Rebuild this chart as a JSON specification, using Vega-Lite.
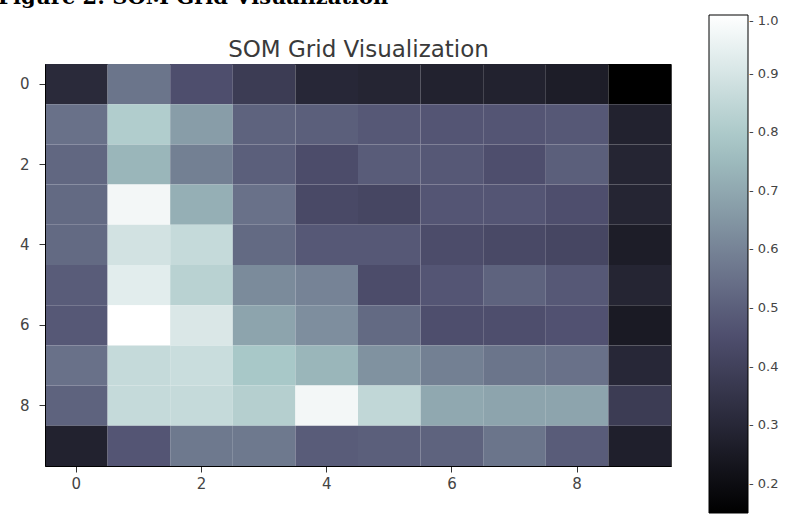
{
  "$schema": "https://vega.github.io/schema/vega-lite/v6.json",
  "autosize": "none",
  "width": 626,
  "height": 402,
  "padding": {"left": 45, "top": 64, "right": 128, "bottom": 51},
  "background": "white",
  "title": {"text": "Figure 2: SOM Grid Visualization", "font": "DejaVu Serif", "fontSize": 21, "fontWeight": "bold", "color": "#000", "anchor": "start", "frame": "group", "dx": -47, "offset": 0, "baseline": "alphabetic", "dy": 10},
  "config": {"view": {"stroke": "#444", "strokeWidth": 1}},
  "data": {"values": [
    {"r":0,"c":0,"v":0.31},{"r":0,"c":1,"v":0.56},{"r":0,"c":2,"v":0.45},{"r":0,"c":3,"v":0.38},{"r":0,"c":4,"v":0.30},{"r":0,"c":5,"v":0.29},{"r":0,"c":6,"v":0.28},{"r":0,"c":7,"v":0.28},{"r":0,"c":8,"v":0.26},{"r":0,"c":9,"v":0.15},
    {"r":1,"c":0,"v":0.55},{"r":1,"c":1,"v":0.81},{"r":1,"c":2,"v":0.67},{"r":1,"c":3,"v":0.51},{"r":1,"c":4,"v":0.50},{"r":1,"c":5,"v":0.48},{"r":1,"c":6,"v":0.47},{"r":1,"c":7,"v":0.47},{"r":1,"c":8,"v":0.48},{"r":1,"c":9,"v":0.28},
    {"r":2,"c":0,"v":0.52},{"r":2,"c":1,"v":0.74},{"r":2,"c":2,"v":0.59},{"r":2,"c":3,"v":0.50},{"r":2,"c":4,"v":0.44},{"r":2,"c":5,"v":0.49},{"r":2,"c":6,"v":0.48},{"r":2,"c":7,"v":0.45},{"r":2,"c":8,"v":0.50},{"r":2,"c":9,"v":0.29},
    {"r":3,"c":0,"v":0.53},{"r":3,"c":1,"v":0.97},{"r":3,"c":2,"v":0.72},{"r":3,"c":3,"v":0.55},{"r":3,"c":4,"v":0.43},{"r":3,"c":5,"v":0.42},{"r":3,"c":6,"v":0.47},{"r":3,"c":7,"v":0.47},{"r":3,"c":8,"v":0.45},{"r":3,"c":9,"v":0.29},
    {"r":4,"c":0,"v":0.53},{"r":4,"c":1,"v":0.89},{"r":4,"c":2,"v":0.86},{"r":4,"c":3,"v":0.53},{"r":4,"c":4,"v":0.48},{"r":4,"c":5,"v":0.48},{"r":4,"c":6,"v":0.44},{"r":4,"c":7,"v":0.43},{"r":4,"c":8,"v":0.42},{"r":4,"c":9,"v":0.26},
    {"r":5,"c":0,"v":0.49},{"r":5,"c":1,"v":0.93},{"r":5,"c":2,"v":0.83},{"r":5,"c":3,"v":0.62},{"r":5,"c":4,"v":0.60},{"r":5,"c":5,"v":0.44},{"r":5,"c":6,"v":0.47},{"r":5,"c":7,"v":0.51},{"r":5,"c":8,"v":0.48},{"r":5,"c":9,"v":0.29},
    {"r":6,"c":0,"v":0.48},{"r":6,"c":1,"v":1.0},{"r":6,"c":2,"v":0.91},{"r":6,"c":3,"v":0.69},{"r":6,"c":4,"v":0.63},{"r":6,"c":5,"v":0.53},{"r":6,"c":6,"v":0.45},{"r":6,"c":7,"v":0.45},{"r":6,"c":8,"v":0.46},{"r":6,"c":9,"v":0.25},
    {"r":7,"c":0,"v":0.55},{"r":7,"c":1,"v":0.86},{"r":7,"c":2,"v":0.87},{"r":7,"c":3,"v":0.79},{"r":7,"c":4,"v":0.74},{"r":7,"c":5,"v":0.64},{"r":7,"c":6,"v":0.59},{"r":7,"c":7,"v":0.56},{"r":7,"c":8,"v":0.55},{"r":7,"c":9,"v":0.30},
    {"r":8,"c":0,"v":0.51},{"r":8,"c":1,"v":0.86},{"r":8,"c":2,"v":0.86},{"r":8,"c":3,"v":0.82},{"r":8,"c":4,"v":0.97},{"r":8,"c":5,"v":0.85},{"r":8,"c":6,"v":0.70},{"r":8,"c":7,"v":0.69},{"r":8,"c":8,"v":0.69},{"r":8,"c":9,"v":0.38},
    {"r":9,"c":0,"v":0.28},{"r":9,"c":1,"v":0.47},{"r":9,"c":2,"v":0.57},{"r":9,"c":3,"v":0.57},{"r":9,"c":4,"v":0.49},{"r":9,"c":5,"v":0.50},{"r":9,"c":6,"v":0.51},{"r":9,"c":7,"v":0.56},{"r":9,"c":8,"v":0.49},{"r":9,"c":9,"v":0.27}
  ]},
  "mark": {"type": "rect"},
  "encoding": {
    "x": {"field": "c", "type": "ordinal", "scale": {"paddingInner": 0, "paddingOuter": 0},
      "axis": {"values": [0,2,4,6,8], "title": null, "labelAngle": 0, "tickSize": 6, "labelPadding": 4, "labelFont": "DejaVu Sans", "labelFontSize": 15, "labelColor": "#444", "tickColor": "#333", "domainColor": "#000", "domainWidth": 1}},
    "y": {"field": "r", "type": "ordinal", "scale": {"paddingInner": 0, "paddingOuter": 0},
      "axis": {"values": [0,2,4,6,8], "tickSize": 6, "labelPadding": 10, "labelFont": "DejaVu Sans", "labelFontSize": 15, "labelColor": "#444", "tickColor": "#333", "domainColor": "#000", "domainWidth": 1,
        "title": "SOM Grid Visualization", "titleAngle": 0, "titleX": 313, "titleY": -8, "titleAlign": "center", "titleBaseline": "alphabetic", "titleFont": "DejaVu Sans", "titleFontWeight": "normal", "titleFontSize": 23, "titleColor": "#3a3a3a"}},
    "color": {"field": "v", "type": "quantitative",
      "scale": {"domain": [0.15, 0.4603, 0.7841, 1.0], "range": ["#000000", "#515171", "#a6c6c6", "#ffffff"], "interpolate": "rgb"},
      "legend": {"orient": "none", "legendX": 664, "legendY": -49, "direction": "vertical", "gradientLength": 498, "gradientThickness": 39, "title": null,
        "values": [0.2,0.3,0.4,0.5,0.6,0.7,0.8,0.9,1.0], "format": ".1f", "labelExpr": "'- ' + datum.label", "labelFont": "DejaVu Sans", "labelFontSize": 13, "labelColor": "#444", "labelOffset": 1, "labelBaseline": "middle", "labelOverlap": false,
        "gradientStrokeColor": "#000", "gradientStrokeWidth": 1}}
  }
}
